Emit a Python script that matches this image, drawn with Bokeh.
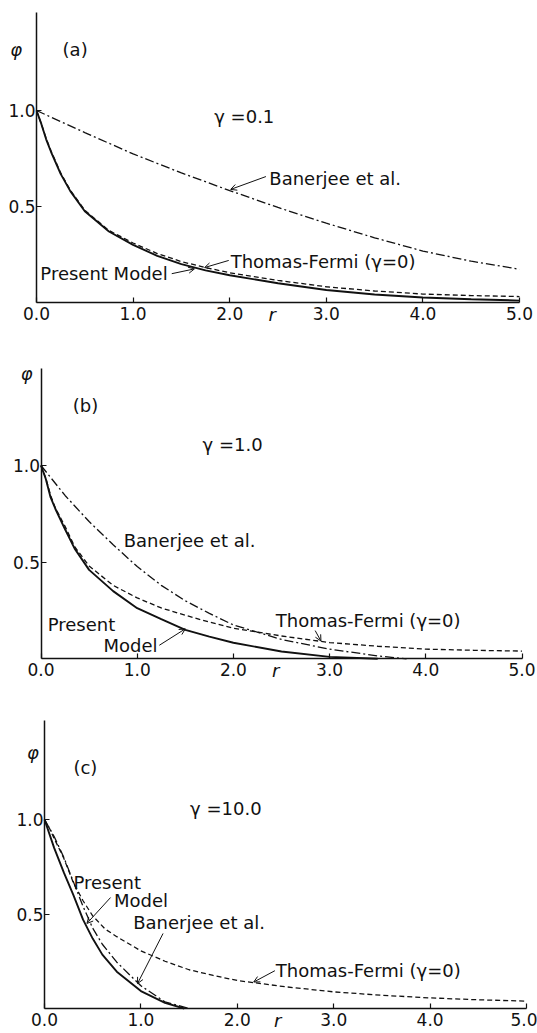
from bokeh.plotting import figure
from bokeh.layouts import column
from bokeh.models import Label, Arrow, OpenHead, FixedTicker, Range1d, PrintfTickFormatter
from bokeh.embed import file_html
from bokeh.resources import INLINE

# ---------------- data ----------------
X_TICKS = [0, 1, 2, 3, 4, 5]
Y_TICKS = [0.5, 1.0]

# panel (a)  gamma = 0.1
R_A = [0, 0.05, 0.1, 0.15, 0.25, 0.35, 0.5, 0.75, 1.0, 1.25, 1.5, 1.75, 2.0, 2.5, 3.0, 3.5, 4.0, 4.5, 5.0]
A_PRESENT = [1.0, 0.93, 0.85, 0.785, 0.67, 0.58, 0.475, 0.37, 0.30, 0.243, 0.20, 0.167, 0.142, 0.10, 0.065, 0.042, 0.026, 0.017, 0.01]
A_TF = [1.0, 0.93, 0.855, 0.79, 0.675, 0.585, 0.48, 0.375, 0.31, 0.255, 0.213, 0.182, 0.155, 0.115, 0.082, 0.06, 0.044, 0.036, 0.031]
R_A_BAN = [0, 0.5, 1.0, 1.5, 2.0, 2.5, 3.0, 3.5, 4.0, 4.5, 5.0]
A_BAN = [1.0, 0.885, 0.774, 0.675, 0.583, 0.495, 0.413, 0.337, 0.268, 0.215, 0.173]

# panel (b)  gamma = 1.0
R_B_PM = [0, 0.05, 0.1, 0.15, 0.25, 0.35, 0.5, 0.75, 1.0, 1.25, 1.5, 1.75, 2.0, 2.5, 3.0, 3.5]
B_PRESENT = [1.0, 0.93, 0.835, 0.775, 0.67, 0.57, 0.46, 0.35, 0.262, 0.205, 0.15, 0.115, 0.083, 0.038, 0.01, 0.0]
R_B_TF = [0, 0.05, 0.1, 0.15, 0.25, 0.35, 0.5, 0.75, 1.0, 1.25, 1.5, 1.75, 2.0, 2.5, 3.0, 3.5, 4.0, 4.5, 5.0]
B_TF = [1.0, 0.935, 0.845, 0.78, 0.685, 0.58, 0.48, 0.38, 0.315, 0.263, 0.225, 0.19, 0.158, 0.118, 0.084, 0.065, 0.05, 0.044, 0.04]
R_B_BAN = [0, 0.25, 0.5, 0.75, 1.0, 1.25, 1.5, 1.75, 2.0, 2.5, 3.0, 3.5, 3.8]
B_BAN = [1.0, 0.845, 0.71, 0.59, 0.477, 0.38, 0.30, 0.235, 0.175, 0.10, 0.05, 0.015, 0.0]

# panel (c)  gamma = 10.0
R_C_PM = [0, 0.1, 0.2, 0.3, 0.4, 0.5, 0.6, 0.75, 1.0, 1.25, 1.45]
C_PRESENT = [1.0, 0.85, 0.72, 0.60, 0.47, 0.37, 0.285, 0.195, 0.092, 0.03, 0.0]
R_C_BAN = [0, 0.1, 0.2, 0.3, 0.4, 0.5, 0.6, 0.75, 1.0, 1.25, 1.5]
C_BAN = [1.0, 0.91, 0.80, 0.67, 0.54, 0.425, 0.34, 0.245, 0.12, 0.035, 0.0]
R_C_TF = [0, 0.05, 0.1, 0.2, 0.3, 0.4, 0.5, 0.63, 0.75, 1.0, 1.25, 1.5, 1.75, 2.0, 2.5, 3.0, 3.5, 4.0, 4.5, 5.0]
C_TF = [1.0, 0.955, 0.9, 0.795, 0.665, 0.57, 0.49, 0.42, 0.38, 0.305, 0.25, 0.205, 0.175, 0.148, 0.115, 0.088, 0.07, 0.056, 0.046, 0.039]

INK = "#111111"
FONT = "DejaVu Sans"
W = 537


def make_panel(height, x0_px, x5_px, zero_px, ppy, ytop):
    """x0_px/x5_px: canvas x of r=0 and r=5; zero_px: canvas y of phi=0."""
    ppx = (x5_px - x0_px) / 5.0
    xr = Range1d(-x0_px / ppx, (W - x0_px) / ppx)
    yr = Range1d(-(height - zero_px) / ppy, zero_px / ppy)
    p = figure(width=W, height=height, x_range=xr, y_range=yr,
               output_backend="svg", toolbar_location=None,
               min_border=0, min_border_top=0, min_border_bottom=0,
               min_border_left=0, min_border_right=0)
    p.outline_line_color = None
    p.grid.visible = False
    p.background_fill_color = "white"
    p.border_fill_color = "white"
    for ax in (p.xaxis[0], p.yaxis[0]):
        ax.fixed_location = 0
        ax.axis_line_width = 1.5
        ax.axis_line_color = INK
        ax.major_tick_in = 5
        ax.major_tick_out = 0
        ax.major_tick_line_width = 1.2
        ax.major_tick_line_color = INK
        ax.minor_tick_line_color = None
        ax.major_label_text_font = FONT
        ax.major_label_text_font_size = "17px"
        ax.major_label_text_color = INK
        ax.formatter = PrintfTickFormatter(format="%.1f")
    p.xaxis.ticker = FixedTicker(ticks=X_TICKS)
    p.yaxis.ticker = FixedTicker(ticks=Y_TICKS)
    p.xaxis.bounds = (0, 5)
    p.yaxis.bounds = (0, ytop)
    p.xaxis.major_label_standoff = 4
    p.yaxis.major_label_standoff = 1
    return p


def lab(p, x, y, text, italic=False, align="left", size="18px"):
    p.add_layout(Label(x=x, y=y, text=text, text_font=FONT, text_font_size=size,
                       text_baseline="middle", text_align=align, text_color=INK,
                       text_font_style="italic" if italic else "normal"))


def arr(p, x0, y0, x1, y1):
    p.add_layout(Arrow(end=OpenHead(size=6, line_width=1, line_color=INK),
                       x_start=x0, y_start=y0, x_end=x1, y_end=y1,
                       line_width=1, line_color=INK))


def curves(p, rp, pm, rt, tf, rb, ban):
    p.line(rb, ban, line_color=INK, line_width=1.3, line_dash="9 3 2 3")
    p.line(rt, tf, line_color=INK, line_width=1.3, line_dash="5 3")
    p.line(rp, pm, line_color=INK, line_width=1.9)


# ---------- (a) ----------  canvas y 0..335
pa = make_panel(335, 36, 519, 302, 192.0, 1.51)
curves(pa, R_A, A_PRESENT, R_A, A_TF, R_A_BAN, A_BAN)
lab(pa, -0.21, 1.32, "φ", italic=True, align="center")
lab(pa, 0.27, 1.32, "(a)")
lab(pa, 1.84, 0.97, "γ =0.1")
lab(pa, 2.41, 0.645, "Banerjee et al.")
arr(pa, 2.375, 0.656, 2.01, 0.589)
lab(pa, 2.01, 0.214, "Thomas-Fermi (γ=0)")
arr(pa, 1.99, 0.219, 1.74, 0.182)
lab(pa, 0.04, 0.15, "Present Model")
arr(pa, 1.40, 0.15, 1.635, 0.175)
lab(pa, 2.44, -0.065, "r", italic=True, align="center")

# ---------- (b) ----------  canvas y 335..690
pb = make_panel(355, 40.5, 521.5, 323.3, 193.3, 1.50)
curves(pb, R_B_PM, B_PRESENT, R_B_TF, B_TF, R_B_BAN, B_BAN)
lab(pb, -0.15, 1.475, "φ", italic=True, align="center")
lab(pb, 0.33, 1.31, "(b)")
lab(pb, 1.68, 1.11, "γ =1.0")
lab(pb, 0.86, 0.61, "Banerjee et al.")
lab(pb, 0.07, 0.18, "Present")
lab(pb, 0.65, 0.07, "Model")
arr(pb, 1.23, 0.07, 1.5, 0.155)
lab(pb, 2.44, 0.198, "Thomas-Fermi (γ=0)")
arr(pb, 2.85, 0.146, 2.91, 0.092)
lab(pb, 2.44, -0.06, "r", italic=True, align="center")

# ---------- (c) ----------  canvas y 690..1033
pc = make_panel(343, 44, 526, 318, 189.0, 1.524)
curves(pc, R_C_PM, C_PRESENT, R_C_TF, C_TF, R_C_BAN, C_BAN)
lab(pc, -0.12, 1.355, "φ", italic=True, align="center")
lab(pc, 0.30, 1.275, "(c)")
lab(pc, 1.51, 1.06, "γ =10.0")
lab(pc, 0.30, 0.667, "Present")
lab(pc, 0.72, 0.571, "Model")
arr(pc, 0.685, 0.587, 0.44, 0.45)
lab(pc, 0.92, 0.455, "Banerjee et al.")
arr(pc, 1.23, 0.397, 0.965, 0.132)
lab(pc, 2.40, 0.20, "Thomas-Fermi (γ=0)")
arr(pc, 2.39, 0.20, 2.17, 0.14)
lab(pc, 2.42, -0.066, "r", italic=True, align="center")

layout = column(pa, pb, pc, spacing=0)
open("out.html", "w").write(file_html(layout, INLINE, "phi vs r"))
